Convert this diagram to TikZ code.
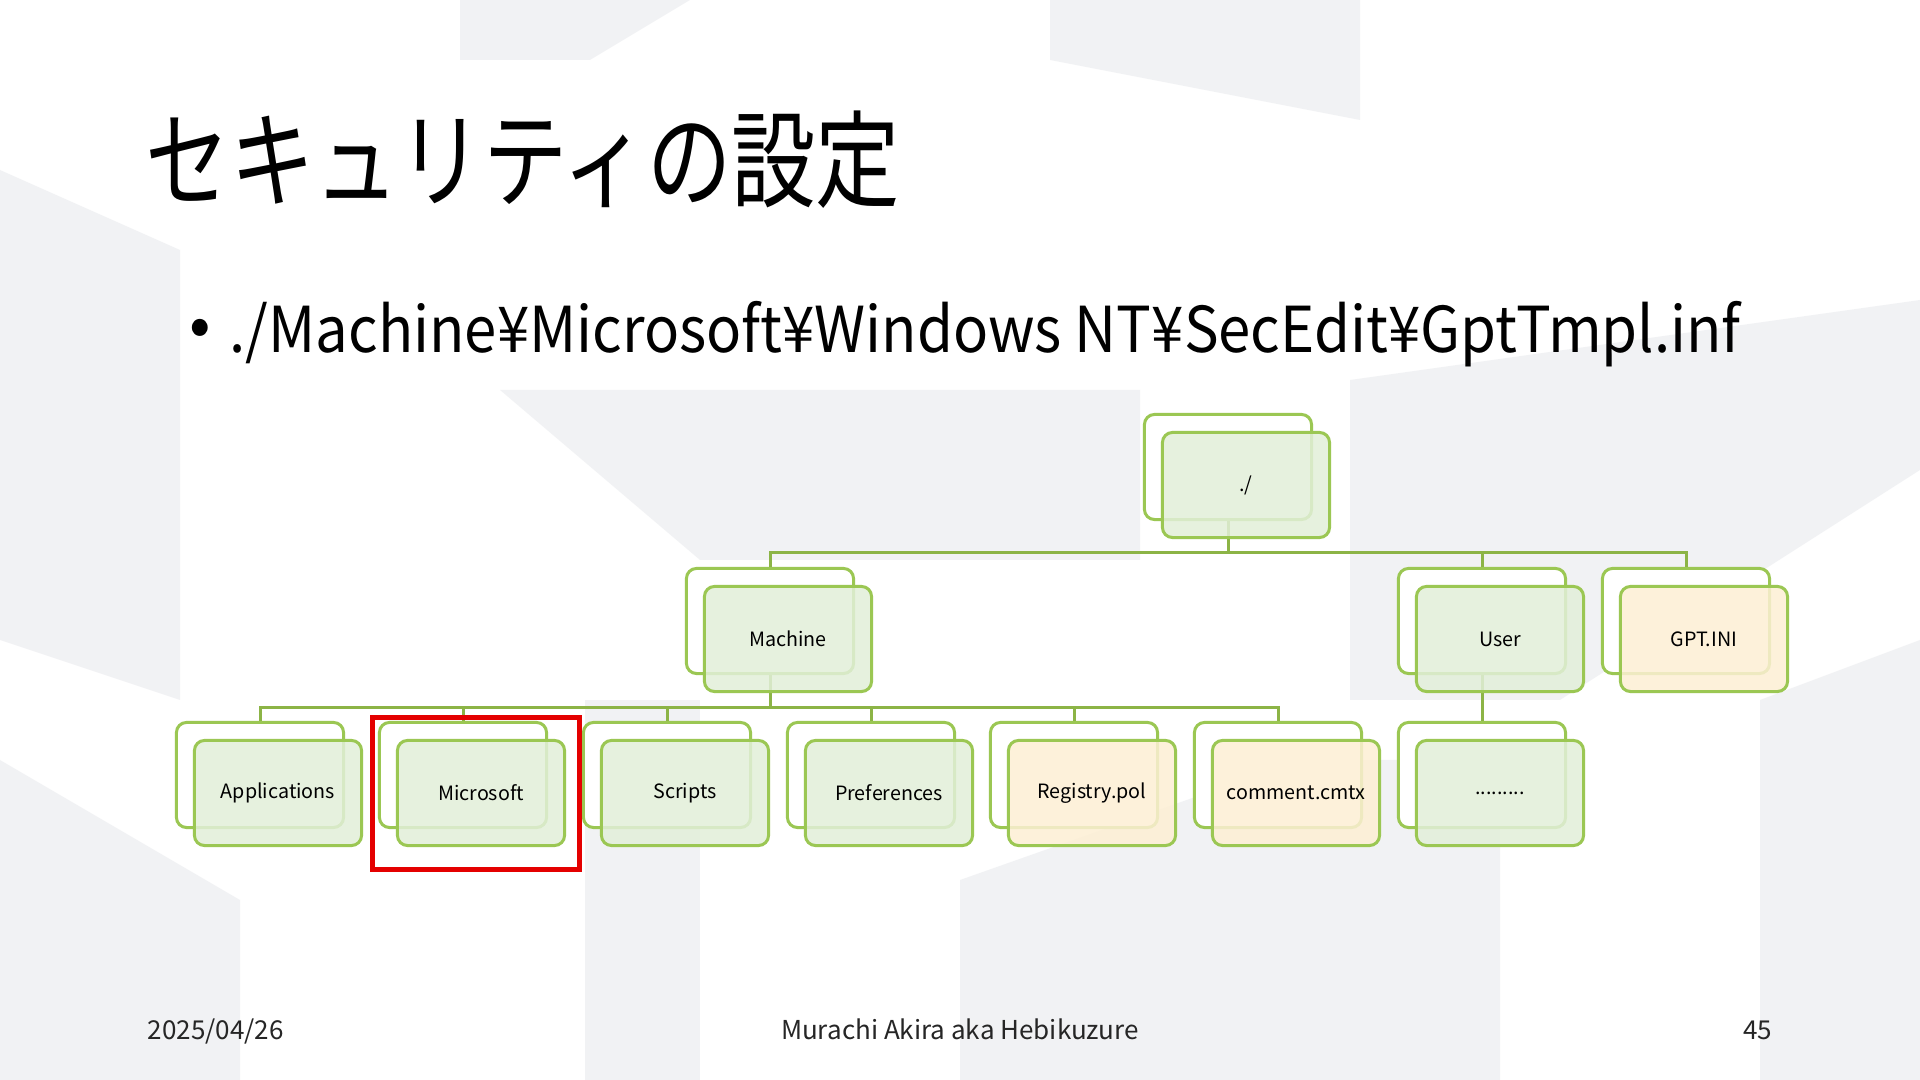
\documentclass[tikz,border=0pt]{standalone}
\usepackage{fontspec}
\setmainfont{Noto Sans CJK JP}
\newfontfamily\titlefont[FakeStretch=0.8]{Noto Sans CJK JP}
\newfontfamily\pathfont[FakeStretch=0.918]{Noto Sans CJK JP}
\usetikzlibrary{positioning}
\definecolor{boxline}{RGB}{155,199,83}
\definecolor{linkgreen}{RGB}{140,180,70}
\definecolor{greenfill}{RGB}{226,239,217}
\definecolor{orangefill}{RGB}{253,239,212}
\definecolor{hired}{RGB}{228,0,0}
\definecolor{bgshade}{RGB}{226,228,232}

\begin{document}
\begin{tikzpicture}[
    x=0.01cm, y=-0.01cm,
    back/.style={rectangle, draw=boxline, line width=0.03cm, rounded corners=0.1cm,
        fill=white, minimum width=1.67cm, minimum height=1.05cm, inner sep=0pt},
    front/.style={back, fill=greenfill, fill opacity=0.85, text opacity=1,
        font=\fontsize{5.6}{7}\selectfont},
    file/.style={front, fill=orangefill},
    link/.style={draw=linkgreen, line width=0.03cm},
    footer/.style={font=\fontsize{7.4}{9}\selectfont, text=black!85, inner sep=0pt},
    shade/.style={fill=bgshade, draw=none, opacity=0.45}
]

% background
\fill[white] (0,0) rectangle (1920,1080);
\fill[shade] (460,0) -- (690,0) -- (590,60) -- (460,60) -- cycle;
\fill[shade] (0,170) -- (180,250) -- (180,700) -- (0,640) -- cycle;
\fill[shade] (500,390) -- (1140,390) -- (1140,560) -- (700,560) -- cycle;
\fill[shade] (1350,380) -- (1920,300) -- (1920,470) -- (1560,700) -- (1350,700) -- cycle;
\fill[shade] (585,700) -- (700,700) -- (700,1080) -- (585,1080) -- cycle;
\fill[shade] (0,760) -- (240,900) -- (240,1080) -- (0,1080) -- cycle;
\fill[shade] (1760,700) -- (1920,640) -- (1920,1080) -- (1760,1080) -- cycle;
\fill[shade] (1050,0) -- (1360,0) -- (1360,120) -- (1050,60) -- cycle;
\fill[shade] (960,880) -- (1300,760) -- (1500,760) -- (1500,1080) -- (960,1080) -- cycle;

% title
\node[anchor=west, inner sep=0pt, font=\titlefont\fontsize{30}{36}\selectfont] (title) at (145,160) {セキュリティの設定};
\node[inner sep=0pt, font=\fontsize{18}{22}\selectfont] (bullet) at (200,333) {•};
\node[anchor=base west, inner sep=0pt, font=\pathfont\fontsize{18}{22}\selectfont] (path) at (229,353) {./Machine¥Microsoft¥Windows NT¥SecEdit¥GptTmpl.inf};

% back boxes
\node[back] (root-b) at (1228,467) {};
\node[back] (mach-b) at (770,621) {};
\node[back] (user-b) at (1482,621) {};
\node[back] (gpt-b) at (1686,621) {};
\node[back] (apps-b) at (260,775) {};
\node[back] (ms-b) at (463,775) {};
\node[back] (scr-b) at (667,775) {};
\node[back] (pref-b) at (871,775) {};
\node[back] (reg-b) at (1074,775) {};
\node[back] (cmt-b) at (1278,775) {};
\node[back] (dots-b) at (1482,775) {};

% connectors
\coordinate (bus0) at (1228,553);
\coordinate (bus1) at (770,708);
\draw[link] (root-b) -- (bus0) -| (mach-b);
\draw[link] (bus0) -| (user-b);
\draw[link] (bus0) -| (gpt-b);
\draw[link] (mach-b) -- (bus1) -| (apps-b);
\draw[link] (bus1) -| (ms-b);
\draw[link] (bus1) -| (scr-b);
\draw[link] (bus1) -| (pref-b);
\draw[link] (bus1) -| (reg-b);
\draw[link] (bus1) -| (cmt-b);
\draw[link] (user-b) -- (dots-b);

% front boxes
\node[front] (root) at (1246,485) {./};
\node[front] (mach) at (788,639) {Machine};
\node[front] (user) at (1500,639) {User};
\node[file] (gpt) at (1704,639) {GPT.INI};
\node[front] (apps) at (278,793) {Applications};
\node[front] (ms) at (481,793) {Microsoft};
\node[front] (scr) at (685,793) {Scripts};
\node[front] (pref) at (889,793) {Preferences};
\node[file] (reg) at (1092,793) {Registry.pol};
\node[file] (cmt) at (1296,793) {comment.cmtx};
\node[front] (dots) at (1500,793) {.........};

% highlight
\node[draw=hired, line width=0.05cm, minimum width=2.07cm, minimum height=1.52cm] (hilite) at (476,793.5) {};

% footer
\node[footer, anchor=base west] (date) at (147,1040) {2025/04/26};
\node[footer, anchor=base] (author) at (960,1040) {Murachi Akira aka Hebikuzure};
\node[footer, anchor=base east] (page) at (1773,1040) {45};

\useasboundingbox (0,0) rectangle (1920,1080);
\end{tikzpicture}
\end{document}
